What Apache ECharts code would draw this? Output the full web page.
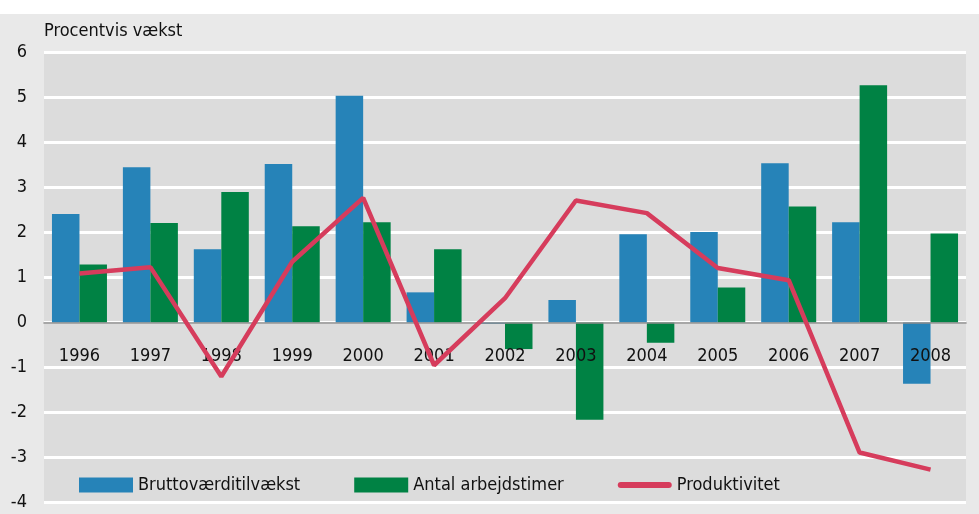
<!DOCTYPE html>
<html>
<head>
<meta charset="utf-8">
<script src="https://cdn.jsdelivr.net/npm/echarts@6/dist/echarts.min.js"></script>
<style>
  html, body { margin: 0; padding: 0; background: #ffffff; }
  #chart { width: 979px; height: 514px; }
</style>
</head>
<body>
<div id="chart"></div>
<script>
const years = ['1996', '1997', '1998', '1999', '2000', '2001', '2002', '2003', '2004', '2005', '2006', '2007', '2008'];
const brutto = [2.41, 3.45, 1.63, 3.52, 5.04, 0.67, -0.03, 0.50, 1.96, 2.01, 3.54, 2.23, -1.36];
const timer = [1.29, 2.21, 2.90, 2.14, 2.23, 1.63, -0.59, -2.16, -0.45, 0.78, 2.58, 5.27, 1.98];
const produktivitet = [1.09, 1.23, -1.20, 1.35, 2.77, -0.95, 0.54, 2.71, 2.43, 1.21, 0.94, -2.89, -3.27];

const FONT = '"DejaVu Sans Condensed", "Liberation Sans", Arial, sans-serif';

const chart = echarts.init(document.getElementById('chart'));
chart.setOption({
  animation: false,
  backgroundColor: '#e9e9e9',
  textStyle: { fontFamily: FONT },
  graphic: [
    { type: 'rect', left: 0, top: 0, shape: { width: 979, height: 14 }, style: { fill: '#ffffff' } },
    {
      type: 'text', left: 44, top: 22,
      style: { text: 'Procentvis vækst', fontSize: 18, fill: '#111', fontFamily: FONT }
    }
  ],
  grid: {
    left: 44, right: 13, top: 52.5, bottom: 11.5,
    outerBoundsMode: 'none',
    show: true, backgroundColor: '#dcdcdc', borderWidth: 0
  },
  legend: {
    left: 74, top: 471,
    itemWidth: 54, itemHeight: 15, itemGap: 54,
    textStyle: { fontSize: 18, color: '#111', fontFamily: FONT },
    data: [
      { name: 'Bruttoværditilvækst', icon: 'rect' },
      { name: 'Antal arbejdstimer', icon: 'rect' },
      { name: 'Produktivitet', icon: 'path://M3,0H51A3,3 0 0 1 51,6H3A3,3 0 0 1 3,0Z' }
    ]
  },
  xAxis: {
    type: 'category',
    data: years,
    offset: -180,
    z: 3,
    axisLine: { onZero: false, lineStyle: { color: '#8a8a8a', width: 1.5 } },
    axisTick: { show: false },
    axisLabel: { margin: 25, fontSize: 18, color: '#111', fontFamily: FONT },
    splitLine: { show: false }
  },
  yAxis: {
    type: 'value',
    min: -4, max: 6, interval: 1,
    axisLine: { show: false },
    axisTick: { show: false },
    axisLabel: { margin: 17, fontSize: 18, color: '#111', fontFamily: FONT },
    splitLine: { lineStyle: { color: '#ffffff', width: 3 } }
  },
  series: [
    {
      name: 'Bruttoværditilvækst', type: 'bar', data: brutto,
      barWidth: 27.5, barGap: '0%',
      itemStyle: { color: '#2683b8' }
    },
    {
      name: 'Antal arbejdstimer', type: 'bar', data: timer,
      barWidth: 27.5, barGap: '0%',
      itemStyle: { color: '#008244' }
    },
    {
      name: 'Produktivitet', type: 'line', data: produktivitet,
      symbol: 'none', z: 5,
      lineStyle: { color: '#d63c5c', width: 4.5 },
      itemStyle: { color: '#d63c5c' }
    }
  ]
});
</script>
</body>
</html>
